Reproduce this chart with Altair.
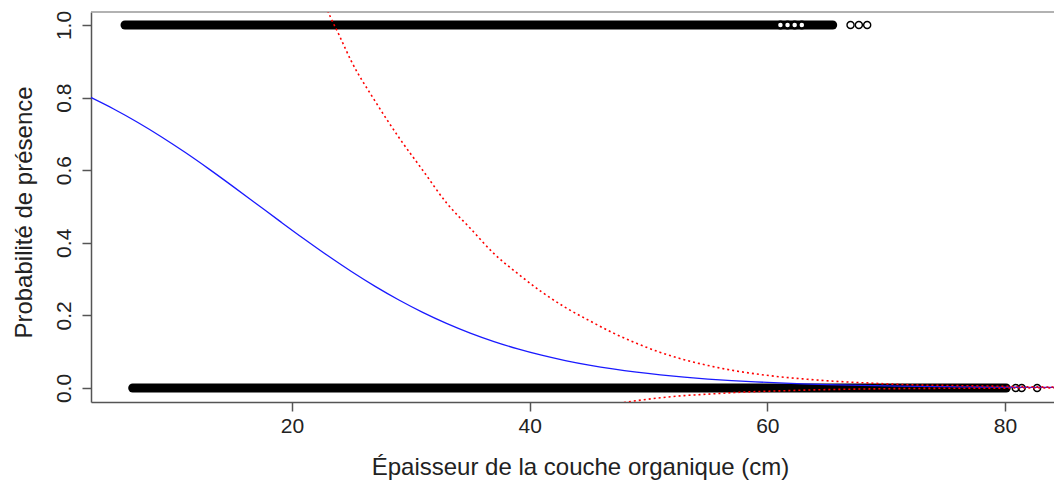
import altair as alt
import pandas as pd

# ---- observations (read from the picture) ----
# dense runs of overlapping open circles: [x start, x end]
presence_run = [5.95, 65.5]
absence_run = [6.6, 80.1]
# a few less dense presence observations inside the run
presence_loose = [61.1, 61.7, 62.3, 62.9]
# isolated observations
presence_pts = [67.0, 67.7, 68.4]
absence_pts = [80.9, 81.4, 82.7]

# ---- fitted logistic curve (blue) ----
fit_x = [3, 5, 7, 9, 11, 13, 15, 17, 19, 21, 23, 25, 27, 29, 31, 33, 35, 37, 39, 41,
         43, 45, 47, 49, 51, 53, 55, 57, 59, 61, 63, 65, 67, 69, 71, 73, 75, 77, 79, 81, 83, 85]
fit_p = [0.8015, 0.7686, 0.7321, 0.6922, 0.6492, 0.6036, 0.5561, 0.5076, 0.4590, 0.4111,
         0.3648, 0.3209, 0.2800, 0.2424, 0.2084, 0.1781, 0.1513, 0.1279, 0.1077, 0.0903,
         0.0755, 0.0630, 0.0524, 0.0435, 0.0361, 0.0299, 0.0247, 0.0204, 0.0169, 0.0139,
         0.0115, 0.0095, 0.0078, 0.0064, 0.0053, 0.0044, 0.0036, 0.0030, 0.0024, 0.0020,
         0.0017, 0.0014]

# ---- confidence band (red dotted) ----
upper_x = [21, 23, 24, 25, 27, 29, 31, 33, 35, 37, 39, 41, 43, 45, 47, 49, 51, 53, 55, 57,
           59, 61, 63, 65, 67, 69, 71, 73, 75, 77, 79, 81, 83, 85]
upper_y = [1.25, 1.04, 0.97, 0.90, 0.79, 0.69, 0.60, 0.51, 0.44, 0.37, 0.315, 0.265, 0.222,
           0.186, 0.152, 0.123, 0.098, 0.078, 0.062, 0.049, 0.039, 0.031, 0.025, 0.020,
           0.016, 0.013, 0.010, 0.008, 0.007, 0.006, 0.005, 0.004, 0.003, 0.0025]
lower_x = [43, 45, 47, 49, 51, 53, 55, 57, 59, 61, 63, 65, 67, 69, 71, 73, 75, 77, 79, 81, 83, 85]
lower_y = [-0.075, -0.058, -0.045, -0.035, -0.027, -0.021, -0.017, -0.013, -0.010, -0.008,
           -0.006, -0.0045, -0.0033, -0.0024, -0.0017, -0.0012, -0.0008, -0.0005, -0.0003,
           -0.0002, -0.0001, 0.0]

X_DOM = [3.09, 84.12]
Y_DOM = [-0.0386, 1.0358]
W, H = 963, 390
FONT = "Liberation Sans"

xs = alt.Scale(domain=X_DOM, nice=False, zero=False)
ys = alt.Scale(domain=Y_DOM, nice=False, zero=False)

x_axis = alt.Axis(values=[20, 40, 60, 80], format="d", grid=False,
                  tickSize=9, tickWidth=1.5, tickColor="#555", domainColor="#555", domainWidth=1.5,
                  labelFontSize=21, labelColor="#222", labelPadding=4, labelFont=FONT,
                  title="Épaisseur de la couche organique (cm)", titleFontSize=24,
                  titleFontWeight="normal", titleColor="#222", titleFont=FONT,
                  titleX=489, titleY=65, titleAlign="center", titleBaseline="middle")
y_axis = alt.Axis(values=[0, 0.2, 0.4, 0.6, 0.8, 1.0], format=".1f", grid=False,
                  tickSize=9, tickWidth=1.5, tickColor="#555", domainColor="#555", domainWidth=1.5,
                  labelFontSize=21, labelColor="#222", labelPadding=8, labelFont=FONT,
                  labelAngle=-90, labelAlign="center", labelBaseline="bottom",
                  title="Probabilité de présence", titleFontSize=24, titleFontWeight="normal",
                  titleColor="#222", titleFont=FONT, titleAngle=-90,
                  titleX=-67, titleY=200, titleAlign="center", titleBaseline="middle")

runs = pd.DataFrame({"x": [presence_run[0], absence_run[0]],
                     "x2": [presence_run[1], absence_run[1]],
                     "y": [1, 0]})
loose = pd.DataFrame({"x": presence_loose, "y": [1] * len(presence_loose)})
pts = pd.DataFrame({"x": presence_pts + absence_pts,
                    "y": [1] * len(presence_pts) + [0] * len(absence_pts)})
fit = pd.DataFrame({"x": fit_x, "p": fit_p})
up = pd.DataFrame({"x": upper_x, "p": upper_y})
lo = pd.DataFrame({"x": lower_x, "p": lower_y})

frame_top = alt.Chart(pd.DataFrame({"k": [0]})).mark_rule(color="#999", strokeWidth=1.5).encode(
    x=alt.value(0), x2=alt.value(W), y=alt.value(0))

band = alt.Chart(runs).mark_rule(strokeWidth=9, strokeCap="round", color="black").encode(
    x=alt.X("x:Q", scale=xs, axis=x_axis), x2="x2:Q",
    y=alt.Y("y:Q", scale=ys, axis=y_axis))

loose_pts = alt.Chart(loose).mark_point(shape="circle", filled=True, fill="white",
                                        stroke="black", strokeWidth=2.2, size=45, opacity=1).encode(
    x=alt.X("x:Q", scale=xs), y=alt.Y("y:Q", scale=ys))

single_pts = alt.Chart(pts).mark_point(shape="circle", filled=False, color="black",
                                       strokeWidth=1.4, size=50, opacity=1).encode(
    x=alt.X("x:Q", scale=xs), y=alt.Y("y:Q", scale=ys))

blue = alt.Chart(fit).mark_line(color="#1a1aff", strokeWidth=1.3, clip=True,
                                interpolate="monotone").encode(
    x=alt.X("x:Q", scale=xs), y=alt.Y("p:Q", scale=ys))

red_up = alt.Chart(up).mark_line(color="#ff0000", strokeWidth=1.6, strokeDash=[2, 3],
                                 clip=True, interpolate="monotone").encode(
    x=alt.X("x:Q", scale=xs), y=alt.Y("p:Q", scale=ys))
red_lo = alt.Chart(lo).mark_line(color="#ff0000", strokeWidth=1.6, strokeDash=[2, 3],
                                 clip=True, interpolate="monotone").encode(
    x=alt.X("x:Q", scale=xs), y=alt.Y("p:Q", scale=ys))

chart = alt.layer(frame_top, band, loose_pts, single_pts, blue, red_up, red_lo).properties(
    width=W, height=H,
    autosize=alt.AutoSizeParams(type="none"),
    padding={"left": 83, "top": 4, "right": 0, "bottom": 82},
    background="white",
).configure_view(stroke=None)

chart.save("out.html", embed_options={"renderer": "svg", "actions": False})
